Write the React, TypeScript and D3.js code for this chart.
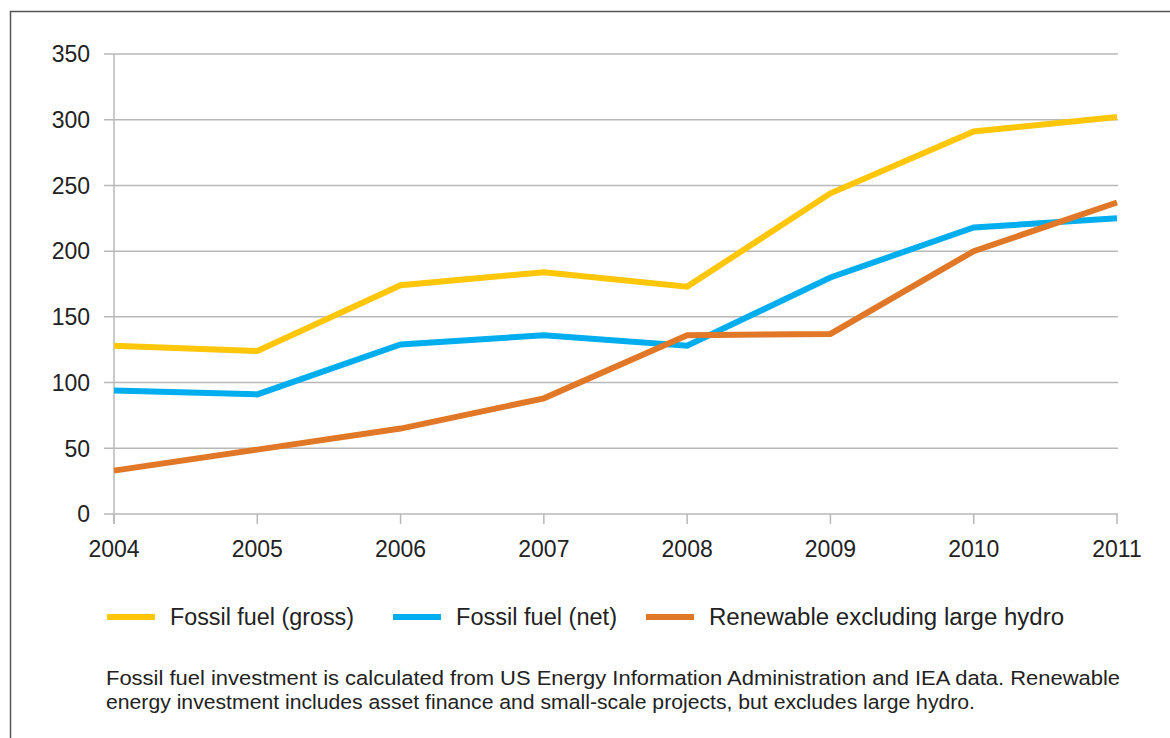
import React from "react";
import * as d3 from "d3";

const years = [2004, 2005, 2006, 2007, 2008, 2009, 2010, 2011];
const fossilGross = [128, 124, 174, 184, 173, 244, 291, 302];
const fossilNet = [94, 91, 129, 136, 128, 180, 218, 225];
const renewable = [33, 49, 65, 88, 136, 137, 200, 237];
const yTicks = [0, 50, 100, 150, 200, 250, 300, 350];

const seriesNames = ["Fossil fuel (gross)", "Fossil fuel (net)", "Renewable excluding large hydro"];
const seriesColors = ["#FFC60A", "#00AEEF", "#E07828"];
const footnote = [
  "Fossil fuel investment is calculated from US Energy Information Administration and IEA data. Renewable",
  "energy investment includes asset finance and small-scale projects, but excludes large hydro.",
];

const W = 1170;
const H = 738;
const FONT = "'Liberation Sans', Arial, Helvetica, sans-serif";

export default function App() {
  const x = d3.scaleLinear().domain([2004, 2011]).range([114, 1117]);
  const y = d3.scaleLinear().domain([0, 350]).range([514, 54]);
  const line = d3
    .line<number>()
    .x((_, i) => x(years[i]))
    .y((d) => y(d));
  const allSeries = [fossilGross, fossilNet, renewable];
  const legendX = [107, 393, 646];
  const legendTextW = [184, 161, 355];

  return (
    <svg
      width={W}
      height={H}
      style={{ position: "absolute", left: 0, top: 0, background: "#fff" }}
      fontFamily={FONT}
    >
      <rect x={0} y={0} width={W} height={H} fill="#fff" />
      {/* frame */}
      <path d={`M10.5,${H} L10.5,11.5 L${W},11.5`} fill="none" stroke="#555" strokeWidth={1.5} />

      {/* gridlines */}
      {yTicks.map((t) => (
        <g key={t}>
          <line x1={104} x2={1118} y1={y(t)} y2={y(t)} stroke="#b8b8b8" strokeWidth={1.5} />
          <text x={90} y={y(t)} dy="0.36em" textAnchor="end" fontSize={23} fill="#222">
            {t}
          </text>
        </g>
      ))}
      {/* y axis line */}
      <line x1={114} x2={114} y1={y(350)} y2={y(0) + 10} stroke="#b8b8b8" strokeWidth={1.5} />
      {/* x ticks */}
      {years.map((yr) => (
        <g key={yr}>
          <line x1={x(yr)} x2={x(yr)} y1={y(0)} y2={y(0) + 10} stroke="#b8b8b8" strokeWidth={1.5} />
          <text x={x(yr)} y={557} textAnchor="middle" fontSize={23} fill="#222">
            {yr}
          </text>
        </g>
      ))}

      {/* lines */}
      {allSeries.map((s, i) => (
        <path
          key={i}
          d={line(s) || ""}
          fill="none"
          stroke={seriesColors[i]}
          strokeWidth={6}
          strokeLinejoin="miter"
        />
      ))}

      {/* legend */}
      {seriesNames.map((n, i) => (
        <g key={n}>
          <line x1={legendX[i]} x2={legendX[i] + 48} y1={617} y2={617} stroke={seriesColors[i]} strokeWidth={6} />
          <text
            x={legendX[i] + 63}
            y={617}
            dy="0.36em"
            fontSize={23}
            fill="#222"
            textLength={legendTextW[i]}
            lengthAdjust="spacingAndGlyphs"
          >
            {n}
          </text>
        </g>
      ))}

      {/* footnote */}
      <text x={106} y={685} fontSize={20.5} fill="#222" textLength={1014} lengthAdjust="spacingAndGlyphs">
        {footnote[0]}
      </text>
      <text x={106} y={709} fontSize={20.5} fill="#222" textLength={869} lengthAdjust="spacingAndGlyphs">
        {footnote[1]}
      </text>
    </svg>
  );
}
